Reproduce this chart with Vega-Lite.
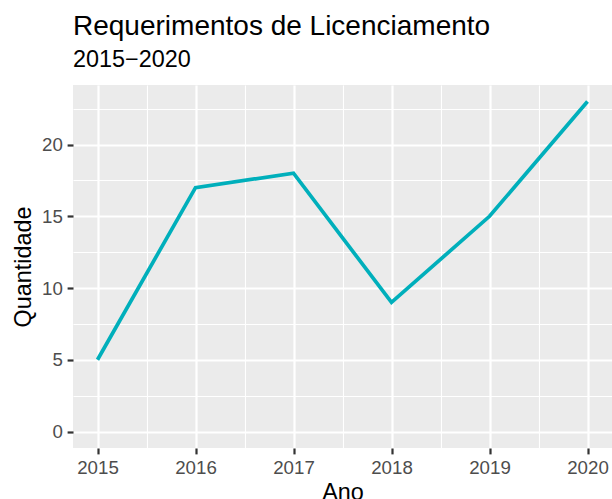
{
  "$schema": "https://vega.github.io/schema/vega-lite/v6.json",
  "width": 539,
  "height": 363,
  "autosize": {"type": "none"},
  "padding": {"left": 73, "top": 85, "right": 0, "bottom": 51},
  "background": "white",
  "config": {
    "font": "Liberation Sans",
    "view": {"fill": "#EBEBEB", "stroke": null}
  },
  "title": {
    "text": "Requerimentos de Licenciamento",
    "subtitle": "2015\u22122020",
    "anchor": "start",
    "frame": "group",
    "font": "Liberation Sans",
    "fontSize": 28,
    "fontWeight": "normal",
    "color": "black",
    "subtitleFont": "Liberation Sans",
    "subtitleFontSize": 23.4,
    "subtitleColor": "black",
    "subtitlePadding": 8,
    "offset": 14
  },
  "data": {
    "values": [
      {"Ano": 2015, "Quantidade": 5},
      {"Ano": 2016, "Quantidade": 17},
      {"Ano": 2017, "Quantidade": 18},
      {"Ano": 2018, "Quantidade": 9},
      {"Ano": 2019, "Quantidade": 15},
      {"Ano": 2020, "Quantidade": 23}
    ]
  },
  "mark": {"type": "line", "color": "#00AFBB", "strokeWidth": 3.7},
  "encoding": {
    "x": {
      "field": "Ano",
      "type": "quantitative",
      "scale": {"domain": [2014.75, 2020.25], "nice": false, "zero": false},
      "axis": {
        "title": "Ano",
        "values": [2015, 2015.5, 2016, 2016.5, 2017, 2017.5, 2018, 2018.5, 2019, 2019.5, 2020],
        "labelExpr": "datum.value % 1 === 0 ? format(datum.value, 'd') : ''",
        "domain": false,
        "grid": true,
        "gridColor": "white",
        "gridWidth": {"condition": {"test": "datum.value % 1 === 0", "value": 2.2}, "value": 1.1},
        "tickColor": "#333333",
        "tickOpacity": {"condition": {"test": "datum.value % 1 === 0", "value": 1}, "value": 0},
        "tickSize": 5.9,
        "tickWidth": 2.2,
        "labelColor": "#4D4D4D",
        "labelFontSize": 18.7,
        "labelPadding": 4.7,
        "labelFont": "Liberation Sans",
        "titleFont": "Liberation Sans",
        "titleFontSize": 23.4,
        "titleFontWeight": "normal",
        "titleColor": "black",
        "titlePadding": 4,
        "labelFlush": false,
        "labelOverlap": false
      }
    },
    "y": {
      "field": "Quantidade",
      "type": "quantitative",
      "scale": {"domain": [-1.15, 24.15], "nice": false, "zero": false},
      "axis": {
        "title": "Quantidade",
        "values": [0, 2.5, 5, 7.5, 10, 12.5, 15, 17.5, 20, 22.5],
        "labelExpr": "datum.value % 5 === 0 ? format(datum.value, 'd') : ''",
        "domain": false,
        "grid": true,
        "gridColor": "white",
        "gridWidth": {"condition": {"test": "datum.value % 5 === 0", "value": 2.2}, "value": 1.1},
        "tickColor": "#333333",
        "tickOpacity": {"condition": {"test": "datum.value % 5 === 0", "value": 1}, "value": 0},
        "tickSize": 5.9,
        "tickWidth": 2.2,
        "labelColor": "#4D4D4D",
        "labelFontSize": 18.7,
        "labelPadding": 4.7,
        "labelFont": "Liberation Sans",
        "titleFont": "Liberation Sans",
        "titleFontSize": 23.4,
        "titleFontWeight": "normal",
        "titleColor": "black",
        "titlePadding": 6,
        "labelFlush": false,
        "labelOverlap": false
      }
    }
  }
}
